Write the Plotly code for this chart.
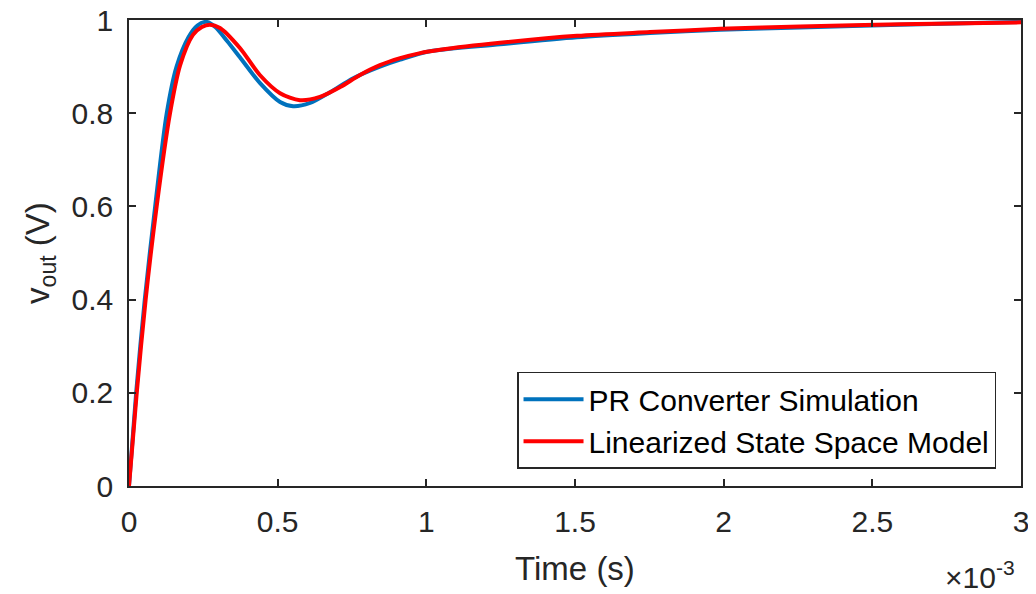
import plotly.graph_objects as go

# Time in units of 1e-3 s
t_sim = [0, 0.024, 0.053, 0.088, 0.127, 0.16, 0.2, 0.23, 0.26, 0.29, 0.33, 0.373,
         0.44, 0.508, 0.552, 0.609, 0.676, 0.754, 0.844, 0.912, 1.012, 1.248, 1.507,
         1.752, 1.988, 2.257, 2.593, 3.0]
v_sim = [0, 0.2, 0.4, 0.6, 0.8, 0.9, 0.963, 0.988, 0.996, 0.985, 0.955, 0.92,
         0.865, 0.824, 0.815, 0.822, 0.845, 0.875, 0.9, 0.915, 0.933, 0.948, 0.963,
         0.972, 0.979, 0.984, 0.99, 0.996]

t_mod = [0, 0.026, 0.056, 0.093, 0.138, 0.172, 0.215, 0.245, 0.272, 0.306, 0.373,
         0.44, 0.508, 0.575, 0.642, 0.71, 0.777, 0.844, 0.912, 0.979, 1.046, 1.248,
         1.507, 1.752, 1.988, 2.257, 2.593, 3.0]
v_mod = [0, 0.2, 0.4, 0.6, 0.8, 0.903, 0.968, 0.985, 0.99, 0.983, 0.94,
         0.882, 0.843, 0.828, 0.835, 0.856, 0.882, 0.903, 0.918, 0.929, 0.936, 0.951,
         0.966, 0.974, 0.981, 0.986, 0.991, 0.995]

x_ticks = [0, 0.5, 1, 1.5, 2, 2.5, 3]
x_ticklabels = ["0", "0.5", "1", "1.5", "2", "2.5", "3"]
y_ticks = [0, 0.2, 0.4, 0.6, 0.8, 1]
y_ticklabels = ["0", "0.2", "0.4", "0.6", "0.8", "1"]

AX = "#262626"
FONT = "Liberation Sans, Arial, Helvetica, sans-serif"

fig = go.Figure()
fig.add_trace(go.Scatter(x=t_sim, y=v_sim, mode="lines", name="PR Converter Simulation",
                         line=dict(color="#0072BD", width=4, shape="spline", smoothing=0.8)))
fig.add_trace(go.Scatter(x=t_mod, y=v_mod, mode="lines", name="Linearized State Space Model",
                         line=dict(color="#FF0000", width=4, shape="spline", smoothing=0.8)))

fig.update_layout(
    width=1036, height=594,
    margin=dict(l=121, r=23, t=12, b=116, autoexpand=False),
    paper_bgcolor="white", plot_bgcolor="white",
    font=dict(family=FONT, size=30, color=AX),
    showlegend=True,
    legend=dict(x=0.972, y=0.037, xanchor="right", yanchor="bottom",
                bgcolor="white", bordercolor=AX, borderwidth=1.5,
                font=dict(size=30, color="#000000"),
                tracegroupgap=0, itemwidth=60),
)
fig.update_xaxes(
    range=[0, 3], tickvals=x_ticks, ticktext=x_ticklabels, automargin=False,
    showline=True, linecolor=AX, linewidth=1.5, mirror="ticks",
    ticks="inside", ticklen=7, tickwidth=1.5, tickcolor=AX,
    showgrid=False, zeroline=False, ticklabelstandoff=8, ticklabeloverflow="allow",
    title=dict(text="Time (s)", font=dict(size=33, color=AX), standoff=20),
)
fig.update_yaxes(
    range=[0, 1], tickvals=y_ticks, ticktext=y_ticklabels, automargin=False,
    showline=True, linecolor=AX, linewidth=1.5, mirror="ticks",
    ticks="inside", ticklen=7, tickwidth=1.5, tickcolor=AX,
    showgrid=False, zeroline=False, ticklabelstandoff=8, ticklabeloverflow="allow",
    title=dict(text="v<sub>out</sub> (V)", font=dict(size=33, color=AX), standoff=12),
)
fig.add_annotation(
    text="×10<sup>-3</sup>", xref="paper", yref="paper", x=0.995, y=-0.19,
    xanchor="right", yanchor="middle", showarrow=False,
    font=dict(size=30, color=AX),
)

fig.write_html("out.html")
